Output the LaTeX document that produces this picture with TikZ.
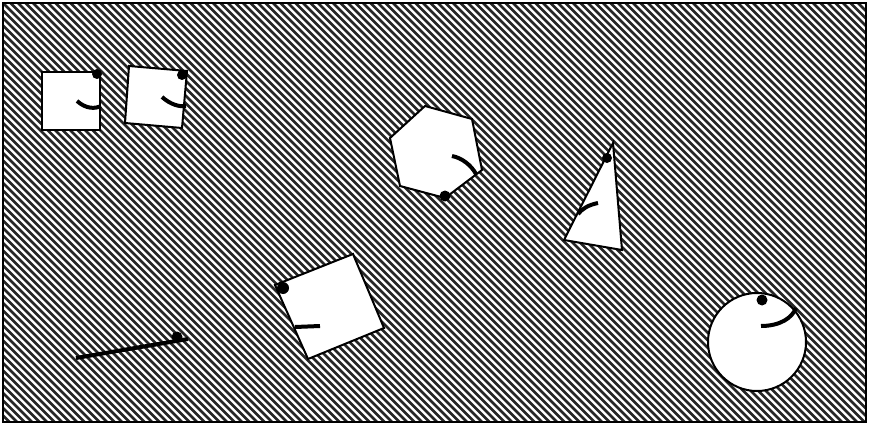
\documentclass[tikz,border=0pt]{standalone}
\begin{document}
\begin{tikzpicture}[x=1pt,y=-1pt,
  figshape/.style={draw=black,fill=white,line width=2pt,line join=miter},
  eye/.style={fill=black},
  smile/.style={draw=black,line width=4pt},
  stripe/.style={draw=black!85,line width=2.5pt}]
\useasboundingbox (0,0) rectangle (869,425);
\fill[white] (0,0) rectangle (869,425);
\begin{scope}
  \clip (3,3) rectangle (866,422);
  \foreach \i in {-60,...,120} {
    \draw[stripe] ({7.5*\i},0) -- ({7.5*\i+430},430);
  }
\end{scope}
\node[draw=black,line width=1.8pt,minimum width=863pt,minimum height=419pt,inner sep=0pt] (frame) at (434.5,212.5) {};
% square 1
\draw[figshape] (42,72) -- (100,72) -- (100,130) -- (42,130) -- cycle;
\fill[eye] (97,74) circle (5);
\draw[smile] (77,101) .. controls (86,109) and (95,109) .. (101,106);
% square 2
\draw[figshape] (129,66) -- (187,71) -- (182,128) -- (125,123) -- cycle;
\fill[eye] (182,75) circle (5);
\draw[smile] (162,97) .. controls (171,105) and (180,107) .. (186,106);
% hexagon
\draw[figshape] (425,106) -- (472,119) -- (482,170) -- (445,198) -- (400,186) -- (390,138) -- cycle;
\fill[eye] (445,196) circle (5.5);
\draw[smile] (452,156) .. controls (462,158) and (471,165) .. (476,174);
% triangle
\draw[figshape] (613,143) -- (622,250) -- (564,240) -- cycle;
\fill[eye] (607,158) circle (5);
\draw[smile] (598,203) .. controls (588,205) and (582,209) .. (578,214);
% rotated square
\draw[figshape] (275,285) -- (353,254) -- (384,328) -- (308,359) -- cycle;
\fill[eye] (283,288) circle (6);
\draw[smile] (295,327) -- (320,326);
% line
\draw[line width=4pt] (76,358) -- (188,339);
\fill[eye] (177,337) circle (5.5);
% circle
\draw[figshape] (757,342) circle (49);
\fill[eye] (762,300) circle (5.5);
\draw[smile] (761,326) .. controls (780,326) and (792,318) .. (796,308);
\end{tikzpicture}
\end{document}
